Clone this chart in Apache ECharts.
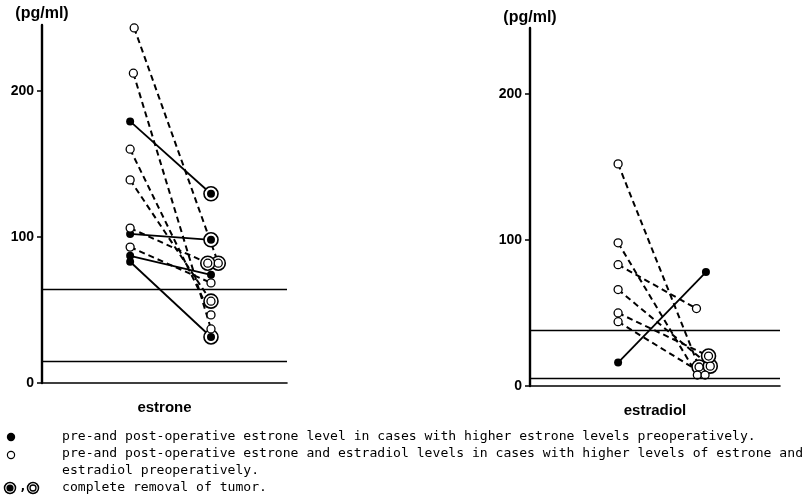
<!DOCTYPE html>
<html>
<head>
<meta charset="utf-8">
<script src="https://cdn.jsdelivr.net/npm/echarts@6/dist/echarts.min.js"></script>
<style>html,body{margin:0;padding:0;background:#fff}#c{width:810px;height:500px}</style>
</head>
<body>
<div id="c"></div>
<script>
// ---------- data ----------
const panelNames = ['estrone', 'estradiol'];
const unitLabel = '(pg/ml)';
const yTicks = [0, 100, 200];
const yMax = 245;
const normalRange = { estrone: [15, 64], estradiol: [5, 38] };

// estrone: filled (higher estrone only), pre -> post
const estroneFilledPre  = [179, 102, 87, 83];
const estroneFilledPost = [129.5, 98, 74, 31.5];
const estroneFilledComplete = [1, 1, 0, 1];
const estroneFilledPostX = [2, 2, 2, 2];
// estrone: open (higher estrone and estradiol)
const estroneOpenPre  = [243, 212, 160, 139, 106, 93];
const estroneOpenPost = [82, 37, 46.6, 56, 82, 68.5];
const estroneOpenComplete = [1, 0, 0, 1, 1, 0];
const estroneOpenPreX  = [1.05, 1.04, 1, 1, 1, 1];
const estroneOpenPostX = [2.09, 2, 2, 2, 1.96, 2];

// estradiol
const estradiolFilledPre  = [16];
const estradiolFilledPost = [78];
const estradiolFilledComplete = [0];
const estradiolFilledPostX = [2.02];
const estradiolOpenPre  = [152, 98, 83, 66, 50, 44];
const estradiolOpenPost = [13, 7.5, 53, 13.6, 20.5, 7.5];
const estradiolOpenComplete = [1, 0, 0, 1, 1, 0];
const estradiolOpenPostX = [1.94, 1.92, 1.91, 2.07, 2.05, 2.01];

const legendTexts = [
  'pre-and post-operative estrone level in cases with higher estrone levels preoperatively.',
  'pre-and post-operative estrone and estradiol levels in cases with higher levels of estrone and',
  'estradiol preoperatively.',
  'complete removal of tumor.'
];

// ---------- chart ----------
const chart = echarts.init(document.getElementById('c'), null, { renderer: 'canvas' });
const FONT = 'Liberation Sans';
const series = [];

function addGroup(gi, pre, post, preX, postX, complete, filled) {
  const dash = filled ? 'solid' : [6, 4];
  for (let i = 0; i < pre.length; i++) {
    series.push({
      type: 'line', xAxisIndex: gi, yAxisIndex: gi, silent: true, z: 2,
      data: [[preX[i], pre[i]], [postX[i], post[i]]],
      showSymbol: false, symbol: 'none',
      lineStyle: { color: '#000', width: filled ? 1.8 : 2, type: dash }
    });
  }
  const rings = [];
  for (let i = 0; i < post.length; i++) if (complete[i]) rings.push([postX[i], post[i]]);
  series.push({
    type: 'scatter', xAxisIndex: gi, yAxisIndex: gi, silent: true, z: 3,
    data: rings, symbol: 'circle', symbolSize: 14,
    itemStyle: { color: '#fff', borderColor: '#000', borderWidth: 1.6, opacity: 1 }
  });
  const pts = [];
  for (let i = 0; i < pre.length; i++) { pts.push([preX[i], pre[i]]); pts.push([postX[i], post[i]]); }
  series.push({
    type: 'scatter', xAxisIndex: gi, yAxisIndex: gi, silent: true, z: 4,
    data: pts, symbol: 'circle', symbolSize: 8,
    itemStyle: filled ? { color: '#000', opacity: 1 } : { color: '#fff', borderColor: '#000', borderWidth: 1.3, opacity: 1 }
  });
}

addGroup(0, estroneFilledPre, estroneFilledPost, estroneFilledPre.map(() => 1), estroneFilledPostX, estroneFilledComplete, true);
addGroup(0, estroneOpenPre, estroneOpenPost, estroneOpenPreX, estroneOpenPostX, estroneOpenComplete, false);
addGroup(1, estradiolFilledPre, estradiolFilledPost, estradiolFilledPre.map(() => 1), estradiolFilledPostX, estradiolFilledComplete, true);
addGroup(1, estradiolOpenPre, estradiolOpenPost, estradiolOpenPre.map(() => 1), estradiolOpenPostX, estradiolOpenComplete, false);

panelNames.forEach((name, gi) => {
  series.push({
    type: 'line', xAxisIndex: gi, yAxisIndex: gi, data: [], silent: true, z: 1,
    markLine: {
      silent: true, symbol: 'none', label: { show: false },
      lineStyle: { color: '#000', width: 1.4, type: 'solid' },
      data: normalRange[name].map(v => ({ yAxis: v }))
    }
  });
});

const grids = [
  { left: 42, width: 245, top: 25, height: 358 },
  { left: 530, width: 250, top: 28, height: 358 }
];
const xRanges = [[-0.09, 2.94], [-0.023, 2.88]];
const unitGaps = [3, 2];

chart.setOption({
  animation: false,
  backgroundColor: '#fff',
  grid: grids,
  xAxis: panelNames.map((name, gi) => ({
    type: 'value', gridIndex: gi, min: xRanges[gi][0], max: xRanges[gi][1],
    name: name, nameLocation: 'middle', nameGap: 17,
    nameTextStyle: { fontFamily: FONT, fontSize: 15, fontWeight: 'bold', color: '#000', verticalAlign: 'top' },
    axisLine: { show: true, onZero: false, lineStyle: { color: '#000', width: 1.6 } },
    axisTick: { show: false }, axisLabel: { show: false }, splitLine: { show: false }
  })),
  yAxis: panelNames.map((name, gi) => ({
    type: 'value', gridIndex: gi, min: 0, max: yMax, interval: 100,
    name: unitLabel, nameLocation: 'end', nameGap: unitGaps[gi],
    nameTextStyle: { fontFamily: FONT, fontSize: 16, fontWeight: 'bold', color: '#000', align: 'center' },
    axisLine: { show: true, onZero: false, lineStyle: { color: '#000', width: 2.4 } },
    axisTick: { show: true, length: 5, lineStyle: { color: '#000', width: 1.5 } },
    axisLabel: {
      fontFamily: FONT, fontSize: 14, fontWeight: 'bold', color: '#000', margin: 8,
      showMaxLabel: false,
      formatter: v => (yTicks.indexOf(v) >= 0 ? String(v) : '')
    },
    splitLine: { show: false }
  })),
  series: series,
  graphic: [
    { type: 'circle', shape: { cx: 11, cy: 437, r: 4.2 }, style: { fill: '#000' } },
    { type: 'circle', shape: { cx: 11, cy: 455, r: 3.6 }, style: { fill: '#fff', stroke: '#000', lineWidth: 1.2 } },
    { type: 'circle', shape: { cx: 10, cy: 488, r: 5.5 }, style: { fill: '#fff', stroke: '#000', lineWidth: 1.5 } },
    { type: 'circle', shape: { cx: 10, cy: 488, r: 3.6 }, style: { fill: '#000' } },
    { type: 'text', left: 19, top: 480, style: { text: ',', font: 'bold 13px "DejaVu Sans Mono"', fill: '#000' } },
    { type: 'circle', shape: { cx: 33, cy: 488, r: 5.5 }, style: { fill: '#fff', stroke: '#000', lineWidth: 1.5 } },
    { type: 'circle', shape: { cx: 33, cy: 488, r: 3 }, style: { fill: '#fff', stroke: '#000', lineWidth: 1.3 } },
    ...legendTexts.map((t, i) => ({
      type: 'text', left: 62, top: [430, 447, 464, 481][i],
      style: { text: t, font: '13.1px "DejaVu Sans Mono"', fill: '#000' }
    }))
  ]
});
</script>
</body>
</html>
